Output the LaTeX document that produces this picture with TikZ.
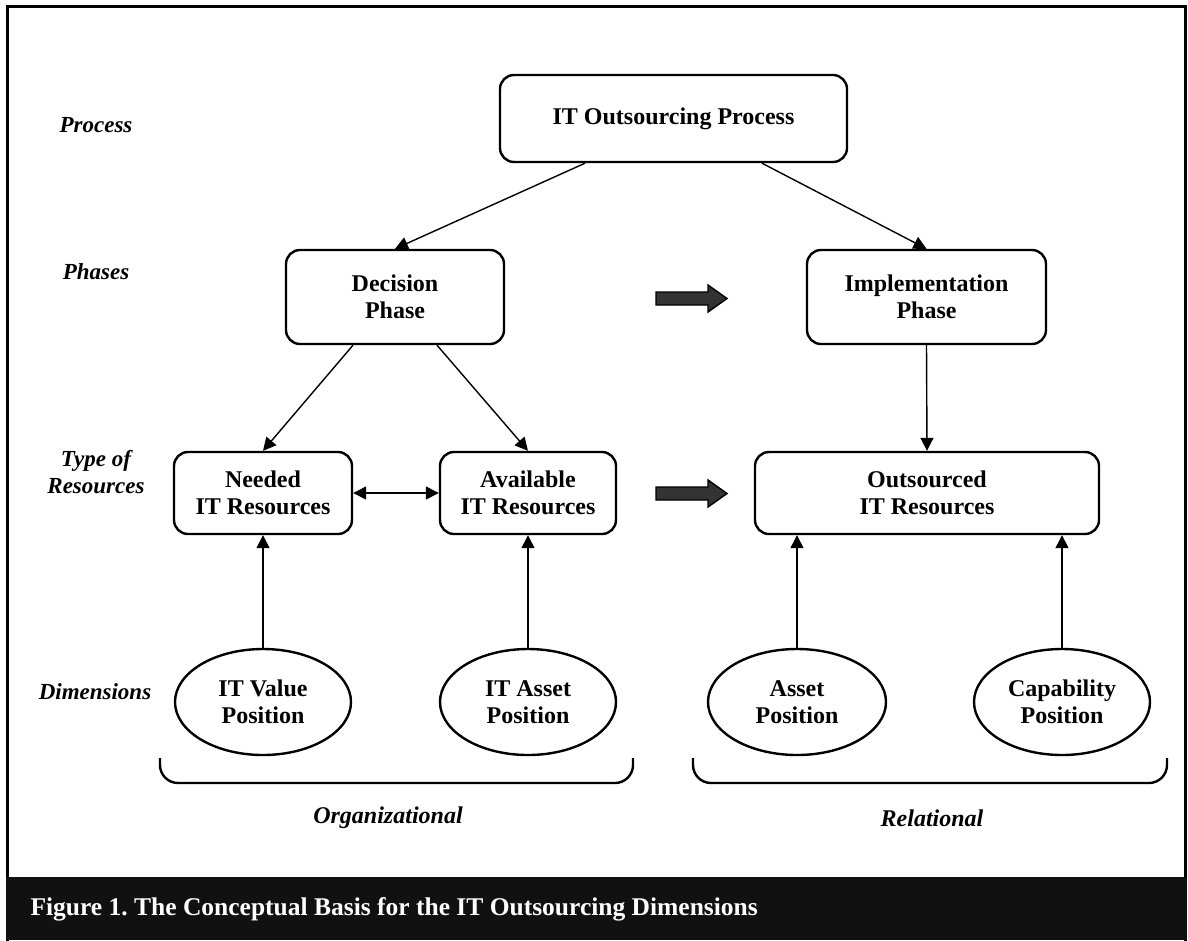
\documentclass[tikz,border=0pt]{standalone}
\usepackage{fontspec}
\setmainfont{Liberation Serif}
\usetikzlibrary{arrows.meta,shapes.geometric,calc}
\definecolor{capbg}{HTML}{111111}
\definecolor{arrowfill}{HTML}{333333}
\frenchspacing
\tikzset{
  box/.style={draw, line width=2.4pt, rounded corners=14pt, align=center,
    font=\bfseries\fontsize{24}{27}\selectfont, inner sep=0pt},
  oval/.style={draw, line width=2.4pt, ellipse, align=center,
    font=\bfseries\fontsize{24}{27}\selectfont, inner sep=0pt},
  lbl/.style={font=\bfseries\itshape\fontsize{23}{27}\selectfont, align=center},
  conn/.style={line width=1.4pt, -{Triangle[length=13pt,width=13pt]}},
  dconn/.style={line width=1.4pt, {Triangle[length=13pt,width=13pt]}-{Triangle[length=13pt,width=13pt]}},
  bigarrow/.style={fill=arrowfill, draw=black, line width=1.4pt, line join=miter},
  brace/.style={line width=2.4pt, rounded corners=18pt},
}
\begin{document}
\begin{tikzpicture}[x=1pt,y=-1pt]
\useasboundingbox (0,0) rectangle (1188,940);
% frame
\draw[line width=3pt] (7,6) rectangle (1185,948);
\fill[capbg] (5.5,877) rectangle (1186.5,940);
\node[anchor=west, text=white, font=\bfseries\fontsize{25.5}{28}\selectfont] (cap) at (27,909) {Figure 1. The Conceptual Basis for the IT Outsourcing Dimensions};
% row labels
\node[lbl] (lproc) at (96,125) {Process};
\node[lbl] (lphase) at (96,272) {Phases};
\node[lbl] (ltype) at (96,472) {Type of\\Resources};
\node[lbl] (ldim) at (95,692) {Dimensions};
% boxes
\node[box, minimum width=347pt, minimum height=87pt] (proc) at (673.5,118.5) {IT Outsourcing Process};
\node[box, minimum width=218pt, minimum height=94pt] (dec) at (395,297) {Decision\\Phase};
\node[box, minimum width=239pt, minimum height=94pt] (impl) at (926.5,297) {Implementation\\Phase};
\node[box, minimum width=178pt, minimum height=82pt] (need) at (263,493) {Needed\\IT Resources};
\node[box, minimum width=176pt, minimum height=82pt] (avail) at (528,493) {Available\\IT Resources};
\node[box, minimum width=344pt, minimum height=82pt] (outs) at (927,493) {Outsourced\\IT Resources};
% ellipses
\node[oval, minimum width=176pt, minimum height=106pt] (val) at (263,702) {IT Value\\Position};
\node[oval, minimum width=176pt, minimum height=106pt] (ass) at (528,702) {IT Asset\\Position};
\node[oval, minimum width=178pt, minimum height=106pt] (apos) at (797,702) {Asset\\Position};
\node[oval, minimum width=176pt, minimum height=106pt] (cap2) at (1062,702) {Capability\\Position};
% connectors
\draw[conn] ($(proc.south)+(-88.5,0)$) -- (dec.north);
\draw[conn] ($(proc.south)+(88.5,0)$) -- (impl.north);
\draw[conn] ($(dec.south)+(-42,0)$) -- (need.north);
\draw[conn] ($(dec.south)+(42,0)$) -- (avail.north);
\draw[conn] (impl.south) -- (outs.north);
\draw[dconn] (need.east) -- (avail.west);
\draw[conn] (val.north) -- (need.south);
\draw[conn] (ass.north) -- (avail.south);
\draw[conn] (apos.north) -- (apos.north |- outs.south);
\draw[conn] (cap2.north) -- (cap2.north |- outs.south);
% big arrows
\draw[bigarrow] (656,292) -- (708,292) -- (708,285) -- (727,298.5) -- (708,312) -- (708,305) -- (656,305) -- cycle;
\draw[bigarrow] (656,487) -- (708,487) -- (708,480) -- (727,493.5) -- (708,507) -- (708,500) -- (656,500) -- cycle;
% braces
\draw[brace] (160,758) -- (160,783) -- (633,783) -- (633,758);
\draw[brace] (693,758) -- (693,783) -- (1167,783) -- (1167,758);
\node[lbl, font=\bfseries\itshape\fontsize{24}{27}\selectfont] (org) at (388,818) {Organizational};
\node[lbl, font=\bfseries\itshape\fontsize{24}{27}\selectfont] (rel) at (932,818) {Relational};
\end{tikzpicture}
\end{document}
